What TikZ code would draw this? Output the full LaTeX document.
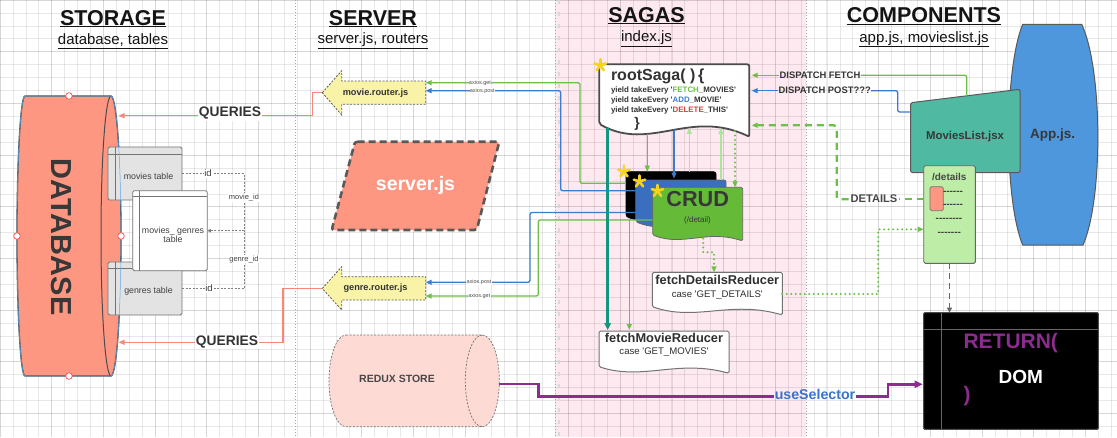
\documentclass[tikz,border=0pt]{standalone}
\usepackage{fontspec}
\setmainfont{Liberation Sans}
\usetikzlibrary{arrows.meta}
\definecolor{txt}{HTML}{333333}
\definecolor{salmon}{HTML}{FD9782}
\definecolor{qline}{HTML}{F6887A}
\definecolor{pinkband}{HTML}{FDE9EF}
\definecolor{ygreen}{HTML}{6CC04A}
\definecolor{lgreen}{HTML}{A9E59A}
\definecolor{bline}{HTML}{3D7BCB}
\definecolor{tealc}{HTML}{14957D}
\definecolor{purp}{HTML}{8C2C8E}
\definecolor{routerc}{HTML}{F8F3A6}
\definecolor{reduxc}{HTML}{FDDAD3}
\definecolor{appblue}{HTML}{4E97DD}
\definecolor{mlteal}{HTML}{4FB9A1}
\definecolor{detgreen}{HTML}{BEEDA8}
\definecolor{crudgreen}{HTML}{65BB38}
\definecolor{crudblue}{HTML}{3A6EBE}
\definecolor{stary}{HTML}{F7D31E}
\definecolor{usel}{HTML}{3A73C9}
\definecolor{delred}{HTML}{E03A40}
\definecolor{addblue}{HTML}{3A7BD5}
\definecolor{fetchgreen}{HTML}{6AC140}
\definecolor{selblue}{HTML}{62A8E5}
\newcommand\fz[2]{\fontsize{#1}{#2}\selectfont}
\newcommand\sq{\textquotesingle}
\newcommand\docshape[7]{\draw[#7] (#1,#2) -- (#3,#2) -- (#3,#5) .. controls ({#3-0.4*(#3-#1)},{(#4+#5)/2-#6}) and ({#1+0.34*(#3-#1)},{(#4+#5)/2+#6}) .. (#1,#4) -- cycle;}
\newcommand\ystar[2]{\foreach \ang in {-90,-18,-162,126,54}{\draw[stary,line width=2.6pt,line cap=round] (#1,#2) -- ++(\ang:6);}}
\begin{document}
\begin{tikzpicture}[x=1pt,y=-1pt,
  every node/.style={inner sep=0pt,outer sep=0pt,text=txt},
  arr/.style={-{Triangle[length=6pt,width=5pt]}},
  smallarr/.style={-{Triangle[length=3.5pt,width=3.5pt]}},
  gridline/.style={draw=black,opacity=0.09,line width=0.6pt},
  gridmajor/.style={draw=black,opacity=0.07,line width=0.8pt},
  sepline/.style={draw=black!35,line width=0.8pt,dash pattern=on 1.2pt off 1.8pt},
  hdr/.style={font=\fz{21.5}{24}\bfseries,text=black!92},
  sub/.style={font=\fz{15}{17},text=black!92},
  tbl/.style={draw=black!55,fill=black!11,line width=0.8pt,rounded corners=1.5pt},
  tblline/.style={draw=black!55,line width=0.7pt},
  tbltext/.style={font=\fz{8.8}{9.2},text=black!75},
  relline/.style={draw=black!50,line width=0.7pt,dash pattern=on 2pt off 1.5pt},
  rellabel/.style={font=\fz{7.5}{8},text=black!75,fill=white,inner sep=0.6pt},
  idlabel/.style={font=\fz{9.5}{10},text=black!75,fill=white,inner sep=0.6pt},
  query/.style={draw=qline,line width=1.3pt,arr},
  qlabel/.style={font=\fz{13.8}{15}\bfseries,fill=white,inner sep=1pt},
  routershape/.style={fill=routerc,draw=black!65,line width=0.8pt,dash pattern=on 2pt off 1.5pt},
  rtext/.style={font=\fz{9.2}{10}\bfseries},
  axlabel/.style={font=\fz{5.5}{6},text=black!70,fill=white,inner sep=0.4pt},
  gline/.style={draw=ygreen,line width=1.3pt,rounded corners=2pt},
  bl/.style={draw=bline,line width=1.3pt,rounded corners=2pt},
  dlabel/.style={font=\fz{9.4}{10}\bfseries,text=black!80},
  dashgreen/.style={draw=ygreen,line width=2.3pt,dash pattern=on 7pt off 5pt,rounded corners=3pt},
  dotgreen/.style={draw=ygreen,line width=2.2pt,dash pattern=on 0pt off 4.5pt,line cap=round},
  purpline/.style={draw=purp,line width=2.6pt},
  yieldtext/.style={font=\fz{7.9}{9}\bfseries,anchor=west},
  redtitle/.style={font=\fz{12.8}{14}\bfseries,text=black!82},
  redcase/.style={font=\fz{9.6}{11},text=black!82}
]
\useasboundingbox (0,0) rectangle (1117,437);
% ---------- background ----------
\fill[white] (0,0) rectangle (1117,437);
\fill[pinkband] (556,0) rectangle (806,437);
\foreach \k in {0,...,86}{\draw[gridline] ({\k*12.92},0) -- ({\k*12.92},437);}
\foreach \k in {0,...,33}{\draw[gridline] (0,{\k*12.92}) -- (1117,{\k*12.92});}
\foreach \k in {0,...,21}{\draw[gridmajor] ({\k*51.68},0) -- ({\k*51.68},437);}
\foreach \k in {0,...,8}{\draw[gridmajor] (0,{\k*51.68}) -- (1117,{\k*51.68});}
\draw[sepline] (295,0) -- (295,437);
\draw[sepline] (555.5,0) -- (555.5,437);
\draw[draw=black!15,line width=2pt,dash pattern=on 4pt off 8pt] (558.5,0) -- (558.5,437);
\draw[sepline] (806,0) -- (806,437);
% ---------- headers ----------
\node[hdr,anchor=base] (hst) at (113,25) {\underline{STORAGE}};
\node[sub,anchor=base] (sst) at (113,44.5) {\underline{database, tables}};
\node[hdr,anchor=base] (hsv) at (373,25) {\underline{SERVER}};
\node[sub,anchor=base] (ssv) at (373,43.5) {\underline{server.js, routers}};
\node[hdr,anchor=base] (hsg) at (646.5,22) {\underline{SAGAS}};
\node[sub,anchor=base] (ssg) at (646.5,41.5) {\underline{index.js}};
\node[hdr,anchor=base] (hcp) at (924,22.5) {\underline{COMPONENTS}};
\node[sub,anchor=base] (scp) at (924,42) {\underline{app.js, movieslist.js}};
% ---------- database ----------
\node[minimum width=104pt,minimum height=280pt] (db) at (69,236) {};
\draw[fill=salmon,draw=black!70,line width=1.3pt] (25,96) -- (111,96) arc[start angle=-90,end angle=90,x radius=10,y radius=140] -- (25,376) arc[start angle=90,end angle=270,x radius=8,y radius=140] -- cycle;
\draw[draw=black!70,line width=1pt] (111,96) arc[start angle=-90,end angle=-270,x radius=10,y radius=140];
\node[rotate=-90,font=\fz{29}{30}\bfseries,text=black!78] (dbtxt) at (61.5,237) {DATABASE};
% tables
\node[tbl,minimum width=74pt,minimum height=53pt] (mt) at (145,173.5) {};
\draw[tblline] ([yshift=-7pt]mt.north west) -- ([yshift=-7pt]mt.north east);
\draw[tblline] ([xshift=7.5pt]mt.north west) -- ([xshift=7.5pt]mt.south west);
\node[tbltext] (mtt) at (148.5,176) {movies table};
\node[tbl,minimum width=74pt,minimum height=53pt] (gt) at (145,288.5) {};
\draw[tblline] ([yshift=-6.8pt]gt.north west) -- ([yshift=-6.8pt]gt.north east);
\draw[tblline] ([xshift=7.5pt]gt.north west) -- ([xshift=7.5pt]gt.south west);
\node[tbltext] (gtt) at (148.5,291) {genres table};
\node[tbl,fill=white,minimum width=74.6pt,minimum height=80pt] (mg) at (170,230.7) {};
\draw[tblline] ([yshift=-6pt]mg.north west) -- ([yshift=-6pt]mg.north east);
\draw[tblline] ([xshift=6.6pt]mg.north west) -- ([xshift=6.6pt]mg.south west);
\node[tbltext,align=center] (mgt) at (173,234.5) {movies\_\ genres\\table};
% selection outline and handles
\draw[draw=selblue,line width=0.5pt] (25,96) -- (111,96) arc[start angle=-90,end angle=90,x radius=10,y radius=140] -- (25,376) arc[start angle=90,end angle=270,x radius=8,y radius=140] -- cycle;
\foreach \p in {(69,96),(17,236),(121,236),(69,376)}{\draw[fill=white,draw=red!65!white,line width=0.8pt] \p circle[radius=3.3];}
% relations
\coordinate (jn) at (244,230.7);
\draw[relline,smallarr] (mt.east) -| (jn) -- (mg.east);
\draw[relline] (gt.east) -| (jn);
\node[idlabel] (id1) at (208,173.5) {id};
\node[idlabel] (id2) at (209,288.5) {id};
\node[rellabel] (mid) at (244,197.5) {movie\_id};
\node[rellabel] (gid) at (244,259.3) {genre\_id};
% ---------- server column ----------
\draw[routershape] (322.3,92.7) -- (341.7,70.7) -- (341.7,81) -- (425.7,81) -- (425.7,104.3) -- (341.7,104.3) -- (341.7,115) -- cycle;
\node[rtext] (mr) at (375.5,92.7) {movie.router.js};
\draw[routershape] (322.3,288.5) -- (341.7,266.7) -- (341.7,276.7) -- (425.7,276.7) -- (425.7,300) -- (341.7,300) -- (341.7,310) -- cycle;
\node[rtext] (gr) at (375.5,288.5) {genre.router.js};
\coordinate (mrtip) at (322.3,92.7);
\coordinate (grtip) at (322.3,288.5);
\coordinate (mrR1) at (425.7,82.7);
\coordinate (mrR2) at (425.7,90.7);
\coordinate (grR1) at (425.7,282.3);
\coordinate (grR2) at (425.7,296);
\coordinate (dbq1) at (118.5,115.7);
\coordinate (dbq2) at (118.5,342.3);
\draw[query] (mrtip) -- (312.7,92.7) |- (dbq1);
\draw[query] (grtip) -- (283,288.5) |- (dbq2);
\node[qlabel] (q1) at (230,113.5) {QUERIES};
\node[qlabel] (q2) at (227,342) {QUERIES};
\draw[fill=salmon,draw=black!65,line width=2.6pt,dash pattern=on 7pt off 4pt,rounded corners=2.5pt] (355,141.7) -- (499.3,141.7) -- (476.7,230) -- (331.7,230) -- cycle;
\node[font=\fz{19.5}{21}\bfseries,text=white] (srv) at (415.5,185) {server.js};
% redux
\draw[fill=reduxc,draw=black!55,line width=0.7pt,dash pattern=on 2pt off 1.5pt] (346,335) -- (482.3,335) arc[start angle=-90,end angle=90,x radius=17,y radius=45.85] -- (346,426.7) arc[start angle=90,end angle=270,x radius=17,y radius=45.85] -- cycle;
\draw[draw=black!55,line width=0.7pt,dash pattern=on 2pt off 1.5pt] (482.3,335) arc[start angle=-90,end angle=-270,x radius=17,y radius=45.85];
\node[font=\fz{10.5}{12}\bfseries,text=black!72] (redux) at (397,379) {REDUX STORE};
\coordinate (reduxR) at (499.3,384);
% ---------- sagas shapes ----------
\docshape{599.3}{64.3}{749.3}{124}{136.7}{22}{fill=white,draw=black!70,line width=1.8pt,rounded corners=2pt}
\node[minimum width=150pt,minimum height=72pt] (rs) at (674.3,100) {};
\node[font=\fz{16}{18}\bfseries,anchor=west] (rst) at (611,76.5) {rootSaga( )\,\{};
\node[yieldtext] (y1) at (611,90.7) {yield takeEvery \sq\textcolor{fetchgreen}{FETCH}\_MOVIES\sq};
\node[yieldtext] (y2) at (611,100.2) {yield takeEvery \sq\textcolor{addblue}{ADD}\_MOVIE\sq};
\node[yieldtext] (y3) at (611,110) {yield takeEvery \sq\textcolor{delred}{DELETE}\_THIS\sq};
\node[font=\fz{14}{16}\bfseries] (rsb) at (637,123.5) {\}};
\ystar{600.3}{65.3}
% CRUD stack
\docshape{626}{171.7}{716}{216.7}{222}{8}{fill=black,draw=black,line width=0.8pt,rounded corners=2.5pt}
\docshape{635.7}{180}{726}{221.7}{228}{10}{fill=crudblue,draw=black!60,line width=0.8pt,rounded corners=2pt}
\docshape{652.7}{187.3}{742.7}{235}{241}{9}{fill=crudgreen,draw=black!60,line width=0.8pt,rounded corners=1.5pt}
\node[font=\fz{21.7}{24}\bfseries,text=black!78] (crud) at (697.7,199.5) {CRUD};
\node[font=\fz{8}{9},text=black!78] (crudsub) at (697.5,220) {(/detail)};
\ystar{624}{171.5}
\ystar{639.5}{181.5}
\ystar{657.5}{191}
% reducers
\docshape{599}{331}{729}{366.7}{373.3}{11}{fill=white,draw=black!55,line width=1pt,rounded corners=1.5pt}
\node[redtitle] (fmr) at (664,338.3) {fetchMovieReducer};
\node[redcase] (fmrc) at (664,352.5) {case \sq GET\_MOVIES\sq};
\docshape{652.3}{272.3}{782.3}{306.7}{315}{11}{fill=white,draw=black!55,line width=1pt,rounded corners=1.5pt}
\node[redtitle] (fdr) at (717.3,279.5) {fetchDetailsReducer};
\node[redcase] (fdrc) at (717.3,295.5) {case \sq GET\_DETAILS\sq};
% ---------- components ----------
\draw[fill=appblue,draw=black!65,line width=1pt] (1022.7,24.3) -- (1081.7,24.3) .. controls (1103,70) and (1103,200) .. (1083,245) -- (1022.7,245) .. controls (1004,200) and (1004,70) .. cycle;
\node[font=\fz{13.5}{15}\bfseries,text=black!78] (app) at (1052.7,135) {App.js.};
\draw[fill=mlteal,draw=black!65,line width=1pt,rounded corners=1.5pt] (910.7,102.7) -- (1020,89.3) -- (1020,172.7) -- (910.7,172.7) -- cycle;
\node[font=\fz{11.4}{13}\bfseries,text=black!78] (ml) at (965,136.7) {MoviesList.jsx};
\node[fill=detgreen,draw=black!60,line width=0.9pt,rounded corners=1.5pt,minimum width=51.6pt,minimum height=97.6pt] (det) at (949.5,214.5) {};
\node[font=\fz{10}{11}\bfseries,text=black!72] (dett) at (949.3,176.5) {/details};
\draw[fill=salmon,draw=black!55,line width=0.7pt,rounded corners=1.5pt] (930,186.7) rectangle (943.3,210.7);
\node[font=\fz{10}{11}\bfseries,text=black!75,anchor=west] (d1) at (943,192.5) {{-}{-}{-}{-}{-}{-}};
\node[font=\fz{10}{11}\bfseries,text=black!75,anchor=west] (d2) at (943,206.3) {{-}{-}{-}{-}{-}{-}};
\node[font=\fz{10}{11}\bfseries,text=black!75] (d3) at (949,220.3) {{-}{-}{-}{-}{-}{-}{-}{-}};
\node[font=\fz{10}{11}\bfseries,text=black!75] (d4) at (949.3,234) {{-}{-}{-}{-}{-}{-}{-}};
% RETURN box
\node[fill=black,draw=black!70,line width=1pt,rounded corners=1pt,minimum width=174.6pt,minimum height=116.6pt] (ret) at (1011,371) {};
\draw[draw=black!60,line width=1pt] ([xshift=17.6pt]ret.north west) -- ([xshift=17.6pt]ret.south west);
\draw[draw=black!60,line width=1pt] ([yshift=-16.6pt]ret.north west) -- ([yshift=-16.6pt]ret.north east);
\node[font=\fz{21}{24}\bfseries,text=purp,anchor=west] (ret1) at (963.5,343) {RETURN(};
\node[font=\fz{19}{22}\bfseries,text=white] (ret2) at (1020.7,377) {DOM};
\node[font=\fz{21}{24}\bfseries,text=purp,anchor=west] (ret3) at (963.5,396) {)};
% ---------- connector coordinates ----------
\coordinate (rsR1) at (751.7,75.3);
\coordinate (rsR2) at (751.7,90.7);
\coordinate (rsR3) at (751.7,125.3);
\coordinate (rsB0) at (607.7,127.5);
\coordinate (rsB1) at (647.3,133.5);
\coordinate (rsB2) at (674,130);
\coordinate (rsB3) at (689.3,127.8);
\coordinate (rsB4) at (721,128);
\coordinate (rsB5) at (735,131);
\coordinate (blkT1) at (647.3,171.7);
\coordinate (bluT1) at (674,178.5);
\coordinate (blkT2) at (689.3,171.7);
\coordinate (bluT2) at (721,180);
\coordinate (grnT) at (735,187.3);
\coordinate (blkL) at (626,183.3);
\coordinate (bluL1) at (635.7,190.7);
\coordinate (bluL2) at (635.7,212.5);
\coordinate (grnL) at (652.7,220);
\coordinate (blkB) at (629.3,218);
\coordinate (grnB) at (703.3,238.5);
\coordinate (fmrT1) at (607.7,330);
\coordinate (fmrT2) at (629.3,330);
\coordinate (fdrT) at (714,272.3);
\coordinate (fdrR) at (782.3,294);
\coordinate (mlTop) at (966.7,95.8);
\coordinate (mlLeft) at (910.7,112);
\coordinate (detL) at (923.7,199.3);
\coordinate (detL2) at (923.7,229.3);
\coordinate (retL) at (922.7,384.3);
% ---------- connectors ----------
% routers <-> CRUD
\draw[gline,arr] (blkL) -| (580,82.7) -- (mrR1);
\draw[bl,arr] (bluL1) -| (560.7,90.7) -- (mrR2);
\draw[bl,arr] (bluL2) -| (530,282.3) -- (grR1);
\draw[gline,arr] (grnL) -| (538.3,296) -- (grR2);
\node[axlabel] (ax1) at (480,82.7) {axios.get};
\node[axlabel] (ax2) at (482.3,90.7) {axios.post};
\node[axlabel] (ax3) at (479,282.3) {axios.post};
\node[axlabel] (ax4) at (479.3,296) {axios.get};
% rootSaga <-> CRUD
\draw[draw=ygreen,line width=1.2pt,arr] (rsB1) -- (blkT1);
\draw[draw=bline,line width=1.2pt,arr] (rsB2) -- (bluT1);
\draw[draw=lgreen,line width=1.2pt,arr] (blkT2) -- (rsB3);
\draw[draw=lgreen,line width=1.2pt,arr] (bluT2) -- (rsB4);
\draw[dotgreen,arr] (rsB5) -- (grnT);
% to reducers
\draw[draw=tealc,line width=2.8pt,-{Triangle[length=7pt,width=6.5pt]}] (rsB0) -- (fmrT1);
\draw[draw=ygreen,line width=1.5pt,arr] (blkB) -- (fmrT2);
\draw[dotgreen,arr] (grnB) |- (714,252.3) -- (fdrT);
% components -> rootSaga
\node[dlabel] (dfl) at (820,75.3) {DISPATCH FETCH};
\draw[gline] (mlTop) |- ([xshift=0.5pt]dfl.east);
\draw[gline,arr] ([xshift=-0.5pt]dfl.west) -- (rsR1);
\node[dlabel] (dpl) at (824.7,90.7) {DISPATCH POST???};
\draw[bl] (mlLeft) -- (897.7,112) |- ([xshift=0.5pt]dpl.east);
\draw[bl,arr] ([xshift=-0.5pt]dpl.west) -- (rsR2);
\node[font=\fz{11.1}{12}\bfseries,text=black!72] (dtl) at (874,198.5) {DETAILS};
\draw[dashgreen] (detL) -- ([xshift=2pt]dtl.east |- detL);
\draw[dashgreen,arr] ([xshift=-2pt]dtl.west |- detL) -| (836.7,125.3) -- (rsR3);
\draw[dotgreen,arr] (fdrR) -| (878.3,229.3) -- (detL2);
% details -> RETURN
\draw[draw=black!60,line width=1.5pt,dash pattern=on 6pt off 4pt,-{Triangle[length=5pt,width=5pt]}] (det.south) -- (det.south |- ret.north);
% redux -> RETURN
\node[font=\fz{14.2}{16}\bfseries,text=usel] (uselab) at (815,394.7) {useSelector};
\draw[purpline] (reduxR) -- (538.3,384) |- ([yshift=-2pt,xshift=-1pt]uselab.west);
\draw[purpline,-{Triangle[length=8pt,width=7pt]}] ([yshift=-2pt,xshift=1pt]uselab.east) -| (888,384.3) -- (retL);
\end{tikzpicture}
\end{document}
